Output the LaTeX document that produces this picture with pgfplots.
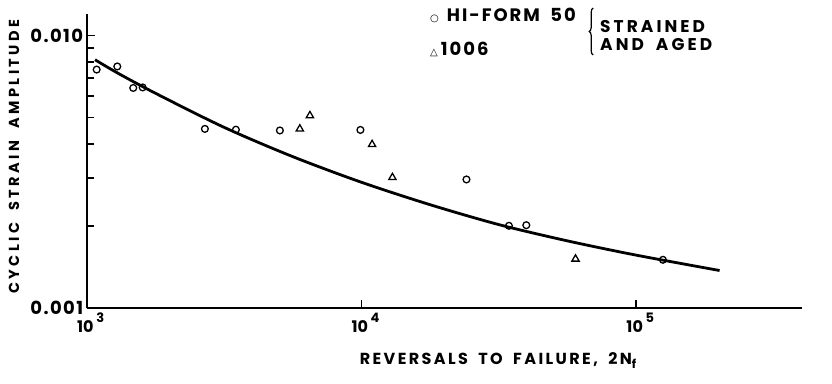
\documentclass[border=0pt]{standalone}
\usepackage{fontspec}
\setmainfont{Poppins}
\newfontfamily\lab{Poppins}[WordSpace=1.8]
\newfontfamily\symf{DejaVu Sans}
\usepackage{pgfplots}
\pgfplotsset{compat=1.18}
\usetikzlibrary{decorations.pathreplacing}
\newcommand{\ls}[1]{\addfontfeature{LetterSpace=#1}}
\begin{document}
\begin{tikzpicture}
\path[use as bounding box] (-86.7pt,-75.3pt) rectangle (745.3pt,307.7pt);
\begin{axis}[
  at={(0pt,0pt)}, anchor=south west,
  scale only axis, width=715pt, height=293.7pt,
  xmode=log, ymode=log,
  xmin=1000, xmax=4e5, ymin=0.001, ymax=0.012,
  axis x line=bottom, axis y line=left,
  every outer x axis line/.append style={-},
  every outer y axis line/.append style={-},
  axis line style={line width=2pt,-},
  xtick={1000,10000,100000},
  xticklabels={10\,\raisebox{0.6em}{\fontsize{13}{13}\selectfont 3},10\,\raisebox{0.6em}{\fontsize{13}{13}\selectfont 4},10\,\raisebox{0.6em}{\fontsize{13}{13}\selectfont 5}},
  xminorticks=false,
  ytick={0.001,0.01},
  yticklabels={0.001,0.010},
  minor ytick={0.002,0.003,0.004,0.005,0.006,0.007,0.008,0.009},
  tick align=inside,
  major tick length=8pt, minor tick length=7pt,
  every tick/.style={line width=1.6pt,black},
  x tick label style={font=\bfseries\fontsize{16}{16}\selectfont, yshift=-2pt, xshift=4pt},
  y tick label style={font=\bfseries\fontsize{18}{18}\selectfont\ls{8}, xshift=0pt},
  clip=false,
]
\addplot[black, line width=2.8pt, smooth] coordinates {
  (1072,0.00815) (1300,0.00727) (1778,0.00614) (3162,0.00460) (5623,0.00359)
  (10000,0.00289) (17783,0.00239) (31623,0.00202) (56234,0.00176)
  (100000,0.00156) (201000,0.00137)
};
\addplot[only marks, mark=o, mark size=3.4pt, line width=1.3pt, black, mark options={fill=white}] coordinates {
  (1087,0.0075) (1292,0.00770) (1477,0.00642) (1598,0.00645) (2692,0.00454)
  (3491,0.00451) (5047,0.00448) (9910,0.0045) (24100,0.00296) (34400,0.0020)
  (39800,0.00201) (125000,0.00150)
};
\addplot[only marks, mark=triangle, mark size=4.2pt, line width=1.3pt, black, mark options={fill=white}] coordinates {
  (5965,0.00454) (6490,0.00508) (10930,0.00398) (12960,0.00301) (60100,0.00151)
};
\end{axis}
% axis titles
\node[anchor=center, inner sep=0pt, font=\lab\bfseries\fontsize{16}{16}\selectfont\ls{15}] at (411.3pt,-53.3pt) {REVERSALS TO FAILURE, 2N\raisebox{-0.25em}{\fontsize{12}{12}\selectfont f}};
\node[anchor=center, rotate=90, inner sep=0pt, font=\lab\bfseries\fontsize{14.5}{14.5}\selectfont\ls{24}] at (-72.7pt,151pt) {CYCLIC STRAIN AMPLITUDE};
% legend
\node[anchor=west, inner sep=0pt, font=\lab\bfseries\fontsize{18}{18}\selectfont\ls{11}] at (343.3pt,292pt) {{\symf\fontsize{10}{10}\selectfont ○}\hspace{8pt}HI-FORM 50};
\node[anchor=west, inner sep=0pt, font=\lab\bfseries\fontsize{18}{18}\selectfont\ls{11}] at (343.3pt,258.7pt) {{\symf\fontsize{10}{10}\selectfont △}\hspace{3pt}1006};
\draw[decorate, decoration={brace, amplitude=4pt}, line width=1.2pt] (506.5pt,252.7pt) -- (506.5pt,299.7pt);
\node[anchor=west, inner sep=0pt, font=\lab\bfseries\fontsize{17}{17}\selectfont\ls{18}] at (513.3pt,280.7pt) {STRAINED};
\node[anchor=west, inner sep=0pt, font=\lab\bfseries\fontsize{17}{17}\selectfont\ls{18}] at (513.3pt,262.7pt) {AND AGED};
\end{tikzpicture}
\end{document}
